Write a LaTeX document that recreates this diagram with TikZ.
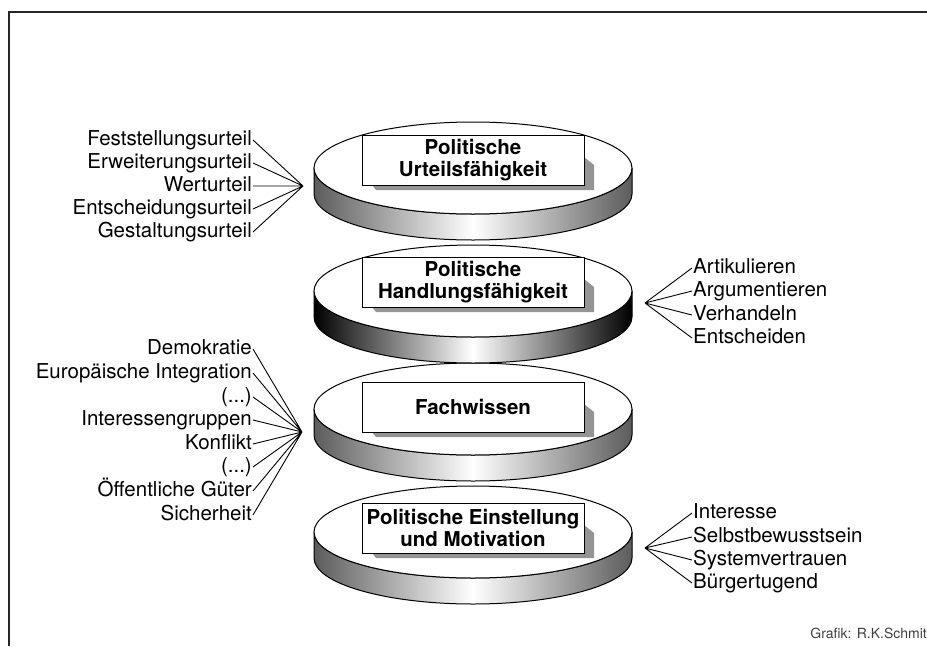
\documentclass[tikz,border=0pt]{standalone}
\usepackage{fontspec}
\setmainfont{TeX Gyre Heros}
\usetikzlibrary{positioning}
\tikzset{
x=1pt, y=1pt, % one unit is one pixel of the picture
grey side/.style={draw, line width=1pt, left color=black!64, right color=black!64, middle color=white}, % side of a plain disc
black side/.style={draw, line width=1pt, left color=black, right color=black, middle color=white}, % side of the dark disc
disc top/.style={draw, line width=1pt, fill=white},
title/.style={draw, line width=0.8pt, fill=white, minimum width=222pt, minimum height=50pt, align=center, font=\fontsize{20.5}{22}\selectfont\bfseries},
box shadow/.style={fill=black!42},
item/.style={font=\fontsize{20.5}{23}\selectfont, inner sep=1pt, text height=14pt, text depth=4pt},
spoke/.style={line width=0.9pt},
}
% one level: disc, shadow and title box (name, x, disc y, box y, side style, text)
\newcommand{\level}[6]{%
  \path[#5] (#2-159,#3) -- (#2-159,#3-26)
    arc[start angle=180, end angle=360, x radius=159pt, y radius=46pt]
    -- (#2+159,#3) arc[start angle=0, end angle=-180, x radius=159pt, y radius=46pt] -- cycle;
  \draw[disc top] (#2,#3) ellipse[x radius=159pt, y radius=46pt];
  \fill[box shadow] (#2+111,#4+3) -- (#2+121,#4-5) -- (#2+121,#4-30) -- (#2-97,#4-30)
    -- (#2-101,#4-25) -- (#2+111,#4-25) -- cycle;
  \node[title] (#1) at (#2,#4) {#6};
}

\begin{document}
\begin{tikzpicture}
\useasboundingbox (0,0) rectangle (927,-646);
\draw[line width=2.5pt, black!85] (927,-12) -- (9,-12) -- (9,-646);

\level{einstellung}{473}{-532}{-528}{grey side}{Politische Einstellung\\und Motivation}
\level{fachwissen}{473}{-409}{-407}{grey side}{Fachwissen}
\level{handlung}{473}{-291}{-282}{black side}{Politische\\Handlungsfähigkeit}
\level{urteil}{473}{-168}{-160}{grey side}{Politische\\Urteilsfähigkeit}

% Urteilsfähigkeit
\coordinate (fan_u) at (303,-186);
\node[item, anchor=east] (feststellung) at (253,-140) {Feststellungsurteil};
\node[item, anchor=east] (erweiterung) at (253,-163) {Erweiterungsurteil};
\node[item, anchor=east] (wert) at (253,-186) {Werturteil};
\node[item, anchor=east] (entscheidung) at (253,-209) {Entscheidungsurteil};
\node[item, anchor=east] (gestaltung) at (253,-232) {Gestaltungsurteil};
\draw[spoke]
    (feststellung.east) -- (fan_u)
    (erweiterung.east) -- (fan_u)
    (wert.east) -- (fan_u)
    (entscheidung.east) -- (fan_u)
    (gestaltung.east) -- (fan_u)
    ;

% Handlungsfähigkeit
\coordinate (fan_h) at (645,-303);
\node[item, anchor=west] (artikulieren) at (692,-268) {Artikulieren};
\node[item, anchor=west] (argumentieren) at (692,-291) {Argumentieren};
\node[item, anchor=west] (verhandeln) at (692,-315) {Verhandeln};
\node[item, anchor=west] (entscheiden) at (692,-338) {Entscheiden};
\draw[spoke]
    (fan_h) -- (artikulieren.west)
    (fan_h) -- (argumentieren.west)
    (fan_h) -- (verhandeln.west)
    (fan_h) -- (entscheiden.west)
    ;

% Fachwissen
\coordinate (fan_f) at (302,-432);
\node[item, anchor=east] (demokratie) at (253,-349) {Demokratie};
\node[item, anchor=east] (europa) at (253,-373) {Europäische Integration};
\node[item, anchor=east] (etc_a) at (253,-397) {(...)};
\node[item, anchor=east] (gruppen) at (253,-420) {Interessengruppen};
\node[item, anchor=east] (konflikt) at (253,-444) {Konflikt};
\node[item, anchor=east] (etc_b) at (253,-467) {(...)};
\node[item, anchor=east] (gueter) at (253,-491) {Öffentliche Güter};
\node[item, anchor=east] (sicherheit) at (253,-515) {Sicherheit};
\draw[spoke]
    (demokratie.east) -- (fan_f)
    (europa.east) -- (fan_f)
    (etc_a.east) -- (fan_f)
    (gruppen.east) -- (fan_f)
    (konflikt.east) -- (fan_f)
    (etc_b.east) -- (fan_f)
    (gueter.east) -- (fan_f)
    (sicherheit.east) -- (fan_f)
    ;

% Einstellung und Motivation
\coordinate (fan_e) at (645,-548);
\node[item, anchor=west] (interesse) at (692,-513) {Interesse};
\node[item, anchor=west] (selbst) at (692,-537) {Selbstbewusstsein};
\node[item, anchor=west] (vertrauen) at (692,-560) {Systemvertrauen};
\node[item, anchor=west] (tugend) at (692,-583) {Bürgertugend};
\draw[spoke]
    (fan_e) -- (interesse.west)
    (fan_e) -- (selbst.west)
    (fan_e) -- (vertrauen.west)
    (fan_e) -- (tugend.west)
    ;

\node[font=\fontsize{14}{16}\selectfont, text=black!75, anchor=base east, inner sep=0pt] (credit) at (927,-638) {Grafik: R.K.Schmit};
\end{tikzpicture}
\end{document}
